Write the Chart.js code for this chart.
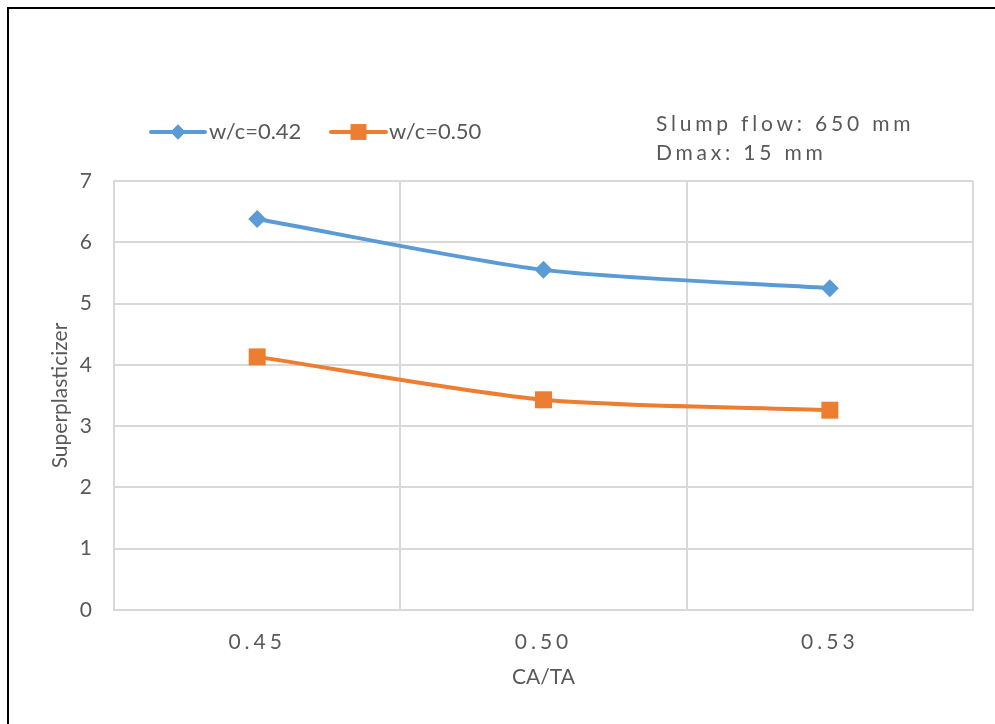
<!DOCTYPE html>
<html>
<head>
<meta charset="utf-8">
<script src="https://cdn.jsdelivr.net/npm/chart.js@4/dist/chart.umd.min.js"></script>
<style>
  html, body { margin: 0; padding: 0; background: #ffffff; }
  #wrap { width: 995px; height: 724px; }
</style>
</head>
<body>
<div id="wrap"><canvas id="chart" width="995" height="724"></canvas></div>
<script>
// CA/TA ratios on the category axis
const categories = ['0.45', '0.50', '0.53'];
// Superplasticizer dosage for each water/cement ratio
const wc042 = [6.38, 5.55, 5.25];
const wc050 = [4.13, 3.43, 3.26];
const seriesNames = ['w/c=0.42', 'w/c=0.50'];
const yTicks = [0, 1, 2, 3, 4, 5, 6, 7];
const noteLines = ['Slump flow: 650 mm', 'Dmax: 15 mm'];

const BLUE = '#5B9BD5';
const ORANGE = '#ED7D31';
const TEXT = '#595959';
const GRID = '#d9d9d9';
const FONT = 'Lato, "Open Sans", sans-serif';

// Legend entries drawn as line + marker, plus the test-condition note and outer frame
const decorations = {
  id: 'decorations',
  beforeDraw(chart) {
    // letter-spaced category labels
    const xs = chart.scales.x;
    if (xs && !xs._spaced) {
      const orig = xs.drawLabels.bind(xs);
      xs.drawLabels = function (area) {
        const ctx = this.ctx;
        ctx.save();
        ctx.letterSpacing = '4px';
        orig(area);
        ctx.restore();
      };
      xs._spaced = true;
    }
  },
  afterDraw(chart) {
    const ctx = chart.ctx;
    ctx.save();
    // legend
    const items = [
      { ds: chart.data.datasets[0], x0: 151, x1: 205, tx: 209 },
      { ds: chart.data.datasets[1], x0: 331, x1: 386, tx: 389 }
    ];
    const ly = 132;
    items.forEach((it, i) => {
      ctx.strokeStyle = it.ds.borderColor;
      ctx.lineWidth = 4;
      ctx.lineCap = 'round';
      ctx.beginPath();
      ctx.moveTo(it.x0, ly);
      ctx.lineTo(it.x1, ly);
      ctx.stroke();
      const cx = (it.x0 + it.x1) / 2;
      ctx.fillStyle = it.ds.borderColor;
      Chart.helpers.drawPoint(ctx, {
        pointStyle: it.ds.pointStyle,
        radius: i === 0 ? 7.5 : 11,
        borderWidth: 0,
        rotation: 0
      }, cx, ly);
      ctx.fill();
      ctx.fillStyle = TEXT;
      ctx.font = '22px ' + FONT;
      ctx.textBaseline = 'middle';
      ctx.textAlign = 'left';
      ctx.fillText(seriesNames[i], it.tx, ly);
    });
    // note
    ctx.fillStyle = TEXT;
    ctx.font = '21px ' + FONT;
    ctx.letterSpacing = '3.8px';
    ctx.textBaseline = 'middle';
    ctx.fillText(noteLines[0], 656, 124);
    ctx.fillText(noteLines[1], 656, 153);
    ctx.letterSpacing = '0px';
    // frame
    ctx.fillStyle = '#000000';
    ctx.fillRect(7, 7, 988, 2);
    ctx.fillRect(7, 7, 2, 717);
    ctx.restore();
  }
};

new Chart(document.getElementById('chart'), {
  type: 'line',
  data: {
    labels: categories,
    datasets: [
      {
        label: seriesNames[0],
        data: wc042,
        borderColor: BLUE,
        backgroundColor: BLUE,
        borderWidth: 4,
        pointStyle: 'rectRot',
        pointRadius: 9,
        pointHoverRadius: 9,
        pointBorderWidth: 0,
        tension: 0.25
      },
      {
        label: seriesNames[1],
        data: wc050,
        borderColor: ORANGE,
        backgroundColor: ORANGE,
        borderWidth: 4,
        pointStyle: 'rect',
        pointRadius: 12,
        pointHoverRadius: 12,
        pointBorderWidth: 0,
        tension: 0.25
      }
    ]
  },
  options: {
    responsive: false,
    animation: false,
    devicePixelRatio: 1,
    layout: { padding: { top: 181, right: 22, left: 0, bottom: 0 } },
    plugins: {
      legend: { display: false },
      tooltip: { enabled: false }
    },
    scales: {
      x: {
        offset: true,
        grid: { offset: true, color: GRID, lineWidth: 2, drawTicks: false },
        border: { color: GRID, width: 2 },
        ticks: { color: TEXT, font: { family: FONT, size: 21 }, padding: 20 },
        title: {
          display: true, text: 'CA/TA', color: TEXT,
          font: { family: FONT, size: 21 }, padding: { top: 0, bottom: 34 }
        },
        afterFit(scale) { scale.height = 114; }
      },
      y: {
        min: 0,
        max: 7,
        afterBuildTicks(scale) { scale.ticks = yTicks.map(v => ({ value: v })); },
        grid: { color: GRID, lineWidth: 2, drawTicks: false },
        border: { color: GRID, width: 2 },
        ticks: { color: TEXT, font: { family: FONT, size: 21 }, padding: 22 },
        title: {
          display: true, text: 'Superplasticizer', color: TEXT,
          font: { family: FONT, size: 21 }, padding: { top: 48, bottom: 0 }
        },
        afterFit(scale) { scale.width = 114; }
      }
    }
  },
  plugins: [decorations]
});
</script>
</body>
</html>
